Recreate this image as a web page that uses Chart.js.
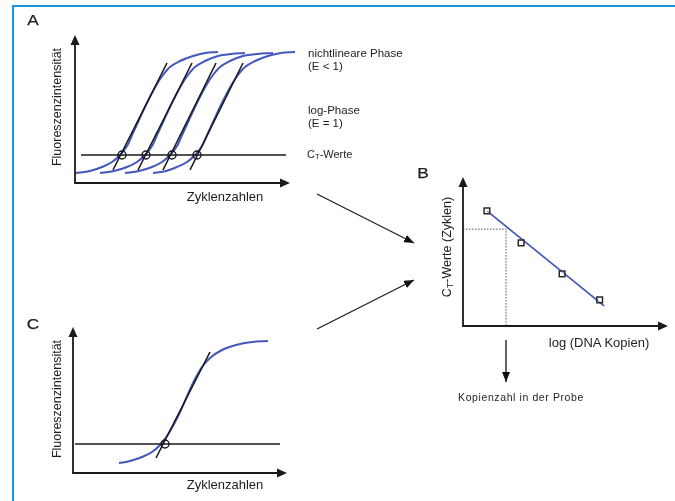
<!DOCTYPE html>
<html>
<head>
<meta charset="utf-8">
<script src="https://cdn.jsdelivr.net/npm/chart.js@4.4.1/dist/chart.umd.min.js"></script>
<style>
  body { margin: 0; background: #fff; font-family: "Liberation Sans", Arial, sans-serif; color: #1e1e1e; }
  #page { position: relative; width: 675px; height: 501px; overflow: hidden; background: #fff; }
  .frame { position: absolute; left: 12px; top: 5px; right: -4px; bottom: -4px;
           border-top: 2px solid #1b95d9; border-left: 2px solid #1b95d9; }
  canvas { position: absolute; }
  .t { position: absolute; white-space: nowrap; line-height: 1; transform: translate(0, -50%); }
  .c { transform: translate(-50%, -50%); }
  .r { transform: translate(-50%, -50%) rotate(-90deg); }
  .big { font-size: 15px; transform: translate(-50%, -50%) scaleX(1.15); -webkit-text-stroke: 0.25px #1e1e1e; }
  sub { font-size: 0.7em; vertical-align: -0.25em; line-height: 0; }
  svg { position: absolute; left: 0; top: 0; }
</style>
</head>
<body>
<div id="page">
  <div class="frame"></div>

  <canvas id="chartA" width="250" height="170" style="left:55px;top:25px"></canvas>
  <canvas id="chartB" width="225" height="175" style="left:450px;top:165px"></canvas>
  <canvas id="chartC" width="250" height="170" style="left:55px;top:315px"></canvas>

  <svg width="675" height="501">
    <defs>
      <marker id="head" viewBox="0 0 10 8" refX="10" refY="4" markerWidth="10" markerHeight="8"
              markerUnits="userSpaceOnUse" orient="auto">
        <path d="M0,0 L10,4 L0,8 z" fill="#111"/>
      </marker>
    </defs>
    <line x1="317" y1="194" x2="414" y2="243" stroke="#222" stroke-width="1.4" marker-end="url(#head)"/>
    <line x1="317" y1="329" x2="414" y2="280" stroke="#222" stroke-width="1.4" marker-end="url(#head)"/>
    <line x1="506" y1="340" x2="506" y2="382" stroke="#222" stroke-width="1.4" marker-end="url(#head)"/>
  </svg>

  <div class="t big" style="left:33px;top:19px">A</div>
  <div class="t big" style="left:423px;top:172px">B</div>
  <div class="t big" style="left:33px;top:323px">C</div>

  <div class="t" style="left:308px;top:54px;font-size:11.5px">nichtlineare Phase</div>
  <div class="t" style="left:308px;top:67px;font-size:11.5px">(E &lt; 1)</div>
  <div class="t" style="left:308px;top:111px;font-size:11.5px">log-Phase</div>
  <div class="t" style="left:308px;top:124px;font-size:11.5px">(E = 1)</div>
  <div class="t" style="left:307px;top:154px;font-size:11px">C<sub>T</sub>-Werte</div>

  <div class="t r" style="left:57px;top:107px;font-size:12.5px">Fluoreszenzintensität</div>
  <div class="t c" style="left:225px;top:196px;font-size:13px">Zyklenzahlen</div>

  <div class="t r" style="left:447px;top:247px;font-size:12.5px">C<sub>T</sub>-Werte (Zyklen)</div>
  <div class="t c" style="left:599px;top:342px;font-size:13px">log (DNA Kopien)</div>
  <div class="t c" style="left:521px;top:397px;font-size:10.5px;letter-spacing:0.6px">Kopienzahl in der Probe</div>

  <div class="t r" style="left:57px;top:399px;font-size:12.5px">Fluoreszenzintensität</div>
  <div class="t c" style="left:225px;top:484px;font-size:13px">Zyklenzahlen</div>
</div>

<script>
// Panel A: four amplification curves, [cycle, fluorescence]
const curveA1 = [[0.2,0.10],[3.0,0.12],[5.4,0.16],[7.4,0.21],[9.0,0.28],[10.4,0.37],[11.6,0.50],[12.8,0.63],[14.0,0.76],[15.2,0.88],[16.4,0.99],[17.6,1.08],[19.0,1.16],[21.0,1.22],[23.6,1.27],[26.0,1.30],[28.6,1.31]];
const curveA2 = [[5.0,0.10],[7.8,0.12],[10.4,0.16],[12.4,0.21],[14.0,0.28],[15.4,0.37],[16.6,0.50],[17.8,0.63],[19.0,0.76],[20.2,0.88],[21.4,0.99],[22.6,1.08],[24.0,1.16],[26.0,1.22],[28.6,1.27],[31.2,1.29],[34.0,1.30]];
const curveA3 = [[10.0,0.10],[12.8,0.12],[15.4,0.16],[17.4,0.21],[19.0,0.28],[20.4,0.37],[21.6,0.50],[22.8,0.63],[24.0,0.76],[25.2,0.88],[26.4,0.99],[27.6,1.08],[29.0,1.16],[31.0,1.22],[33.6,1.27],[36.4,1.29],[39.6,1.30]];
const curveA4 = [[15.6,0.10],[18.2,0.12],[20.4,0.16],[22.4,0.21],[24.0,0.28],[25.4,0.37],[26.6,0.50],[27.8,0.63],[29.0,0.76],[30.2,0.88],[31.4,0.99],[32.6,1.08],[34.0,1.16],[36.0,1.22],[38.6,1.27],[41.2,1.30],[44.0,1.31]];
// tangents through the log phase
const tangentsA = [
  [[7.6,0.13],[18.4,1.20]],
  [[12.6,0.13],[23.4,1.20]],
  [[17.6,0.13],[28.2,1.20]],
  [[23.0,0.13],[33.6,1.20]]
];
const thresholdA = 0.28;
const thresholdSpanA = [1.2, 42.2];
const ctValuesA = [9.4, 14.2, 19.4, 24.4];

// Panel B: standard curve, log(copies) vs Ct
const logCopies = [0.7, 1.7, 2.9, 4.0];
const ctCycles = [30.9, 22.3, 14.0, 7.0];
const fitLine = [[0.7,30.9],[4.13,5.4]];
const sampleCt = 26.0;
const sampleLog = 1.26;

// Panel C: single sample curve
const curveC = [[9.2,0.10],[11.4,0.12],[13.8,0.16],[15.8,0.21],[17.4,0.28],[18.8,0.37],[20.2,0.49],[21.6,0.63],[23.0,0.79],[24.4,0.94],[25.8,1.06],[27.4,1.15],[29.8,1.23],[32.6,1.28],[35.8,1.31],[39.0,1.32]];
const tangentC = [[16.6,0.15],[27.4,1.21]];
const thresholdC = 0.29;
const thresholdSpanC = [0.4, 41.4];
const ctValueC = 18.4;

const BLUE = '#4357bd';
const INK = '#1a1a1a';

const pts = arr => arr.map(([x, y]) => ({ x, y }));

// draws the two axes as arrows along the left and bottom edges of the chart area
const arrowAxes = {
  id: 'arrowAxes',
  beforeDatasetsDraw(chart) {
    const { ctx, chartArea: a } = chart;
    ctx.save();
    ctx.strokeStyle = INK;
    ctx.fillStyle = INK;
    ctx.lineWidth = 1.8;
    ctx.beginPath();
    ctx.moveTo(a.left, a.top + 8);
    ctx.lineTo(a.left, a.bottom);
    ctx.lineTo(a.right - 8, a.bottom);
    ctx.stroke();
    ctx.beginPath();
    ctx.moveTo(a.left, a.top);
    ctx.lineTo(a.left - 4.5, a.top + 10);
    ctx.lineTo(a.left + 4.5, a.top + 10);
    ctx.closePath();
    ctx.fill();
    ctx.beginPath();
    ctx.moveTo(a.right, a.bottom);
    ctx.lineTo(a.right - 10, a.bottom - 4.5);
    ctx.lineTo(a.right - 10, a.bottom + 4.5);
    ctx.closePath();
    ctx.fill();
    ctx.restore();
  }
};

function curveSet(data) {
  return { data: pts(data), borderColor: BLUE, borderWidth: 2, tension: 0.4,
           cubicInterpolationMode: 'monotone', pointRadius: 0, clip: false };
}
function blackLine(data, width) {
  return { data: pts(data), borderColor: INK, borderWidth: width || 1.5, pointRadius: 0, clip: false };
}
function circles(xs, y) {
  return { data: xs.map(x => ({ x, y })), showLine: false, pointStyle: 'circle', pointRadius: 4,
           pointBorderWidth: 1.4, pointBorderColor: INK, pointBackgroundColor: 'rgba(0,0,0,0)', clip: false };
}

function baseOptions(xmax, ymax, padding) {
  return {
    responsive: false,
    animation: false,
    layout: { padding },
    plugins: { legend: { display: false }, tooltip: { enabled: false } },
    scales: {
      x: { type: 'linear', min: 0, max: xmax, display: false },
      y: { type: 'linear', min: 0, max: ymax, display: false }
    }
  };
}

new Chart(document.getElementById('chartA'), {
  type: 'line',
  data: {
    datasets: [
      circles(ctValuesA, thresholdA),
      ...tangentsA.map(t => blackLine(t, 1.6)),
      blackLine([[thresholdSpanA[0], thresholdA], [thresholdSpanA[1], thresholdA]], 1.3),
      curveSet(curveA1), curveSet(curveA2), curveSet(curveA3), curveSet(curveA4)
    ]
  },
  options: baseOptions(43, 1.48, { left: 20, top: 10, right: 15, bottom: 12 }),
  plugins: [arrowAxes]
});

new Chart(document.getElementById('chartB'), {
  type: 'line',
  data: {
    datasets: [
      { data: logCopies.map((x, i) => ({ x, y: ctCycles[i] })), showLine: false, pointStyle: 'rect',
        pointRadius: 4, pointBorderWidth: 1.5, pointBorderColor: '#2a2a2a',
        pointBackgroundColor: 'rgba(255,255,255,0.5)', clip: false },
      { data: pts(fitLine), borderColor: BLUE, borderWidth: 1.8, pointRadius: 0, clip: false },
      { data: pts([[0, sampleCt], [sampleLog, sampleCt], [sampleLog, 0]]), borderColor: '#555',
        borderWidth: 1, borderDash: [1.5, 1.5], pointRadius: 0, clip: false }
    ]
  },
  options: baseOptions(6, 40, { left: 13, top: 12, right: 7, bottom: 14 }),
  plugins: [arrowAxes]
});

new Chart(document.getElementById('chartC'), {
  type: 'line',
  data: {
    datasets: [
      circles([ctValueC], thresholdC),
      blackLine(tangentC, 1.6),
      blackLine([[thresholdSpanC[0], thresholdC], [thresholdSpanC[1], thresholdC]], 1.3),
      curveSet(curveC)
    ]
  },
  options: baseOptions(42.8, 1.46, { left: 18, top: 12, right: 18, bottom: 12 }),
  plugins: [arrowAxes]
});
</script>
</body>
</html>
